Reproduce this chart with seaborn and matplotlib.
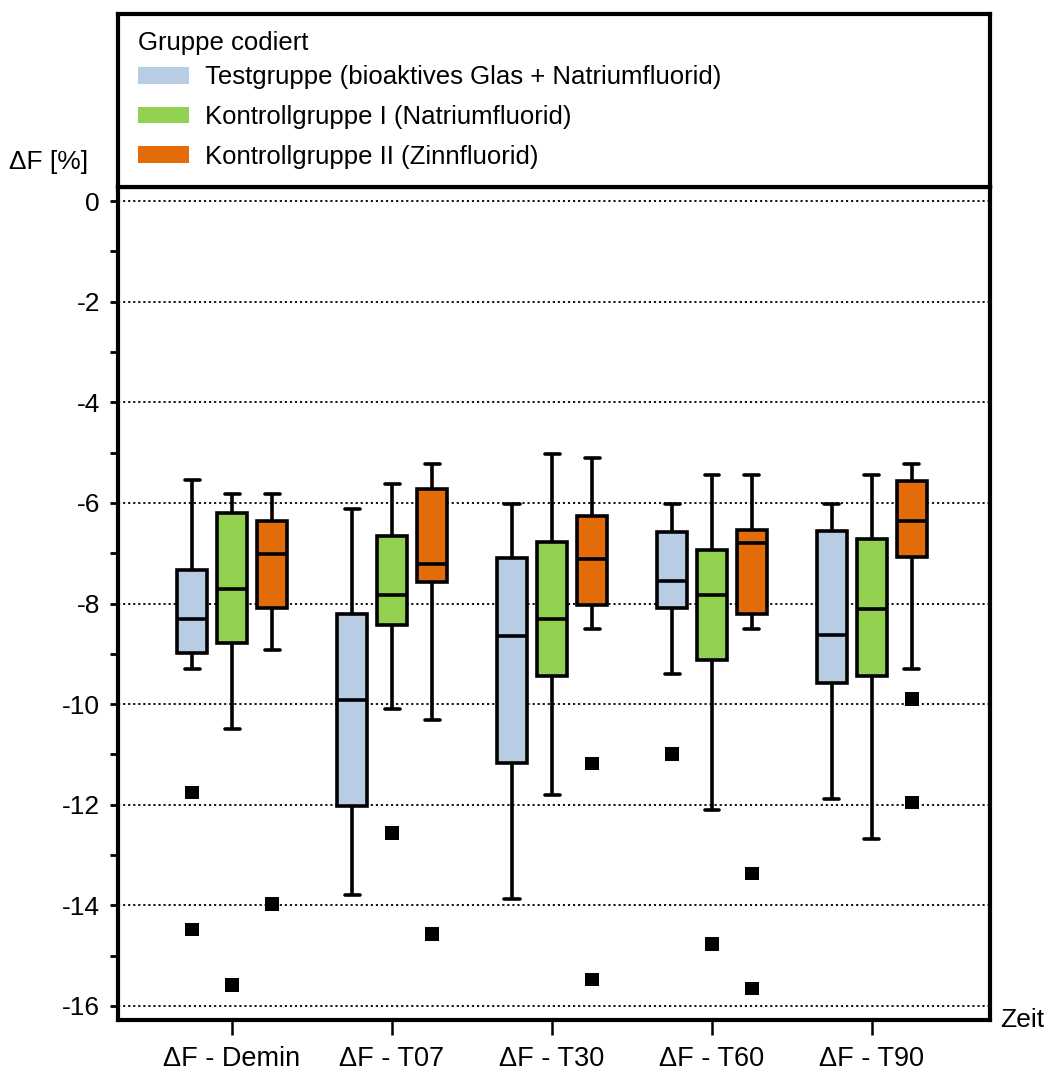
import numpy as np
import pandas as pd
import matplotlib
matplotlib.use("Agg")
import matplotlib.pyplot as plt
from matplotlib.patches import Patch
from matplotlib.ticker import MultipleLocator
import seaborn as sns

# ---------------- data ----------------
zeit = ["ΔF - Demin", "ΔF - T07", "ΔF - T30", "ΔF - T60", "ΔF - T90"]
gruppen = ["Testgruppe (bioaktives Glas + Natriumfluorid)",
           "Kontrollgruppe I (Natriumfluorid)",
           "Kontrollgruppe II (Zinnfluorid)"]

test_min = [-9.30, -13.80, -13.88, -9.40, -11.88]
test_q1 = [-8.99, -12.02, -11.18, -8.08, -9.58]
test_med = [-8.31, -9.92, -8.64, -7.55, -8.63]
test_q3 = [-7.34, -8.21, -7.09, -6.58, -6.55]
test_max = [-5.54, -6.12, -6.02, -6.02, -6.02]

k1_min = [-10.50, -10.10, -11.80, -12.11, -12.68]
k1_q1 = [-8.78, -8.42, -9.44, -9.12, -9.44]
k1_med = [-7.71, -7.83, -8.31, -7.83, -8.10]
k1_q3 = [-6.20, -6.65, -6.78, -6.93, -6.72]
k1_max = [-5.83, -5.63, -5.02, -5.44, -5.44]

k2_min = [-8.93, -10.32, -8.50, -8.50, -9.30]
k2_q1 = [-8.08, -7.57, -8.03, -8.21, -7.08]
k2_med = [-7.02, -7.21, -7.11, -6.80, -6.35]
k2_q3 = [-6.35, -5.73, -6.27, -6.53, -5.56]
k2_max = [-5.83, -5.23, -5.11, -5.44, -5.23]

test_out = [[-11.75, -14.48], [], [], [-10.99], []]
k1_out = [[-15.58], [-12.56], [], [-14.77], []]
k2_out = [[-13.97], [-14.57], [-11.18, -15.48], [-13.37, -15.66], [-9.90, -11.96]]

farben = ["#B8CCE4", "#92D050", "#E36C09"]

# ---------------- build long tables ----------------
five = {
    gruppen[0]: (test_min, test_q1, test_med, test_q3, test_max),
    gruppen[1]: (k1_min, k1_q1, k1_med, k1_q3, k1_max),
    gruppen[2]: (k2_min, k2_q1, k2_med, k2_q3, k2_max),
}
outs = {gruppen[0]: test_out, gruppen[1]: k1_out, gruppen[2]: k2_out}

rows = []
for g, arrs in five.items():
    for i, z in enumerate(zeit):
        for a in arrs:
            rows.append((z, g, a[i]))
box_df = pd.DataFrame(rows, columns=["Zeit", "Gruppe", "dF"])

orows = []
for g, lst in outs.items():
    for i, z in enumerate(zeit):
        for v in lst[i]:
            orows.append((z, g, v))
out_df = pd.DataFrame(orows, columns=["Zeit", "Gruppe", "dF"])

# ---------------- style ----------------
sns.set_style("ticks")
plt.rcParams["font.family"] = ["Liberation Sans", "DejaVu Sans"]
plt.rcParams["axes.unicode_minus"] = False
plt.rcParams["text.color"] = "black"
plt.rcParams["xtick.color"] = "black"
plt.rcParams["ytick.color"] = "black"
plt.rcParams["xtick.labelcolor"] = "black"
plt.rcParams["ytick.labelcolor"] = "black"

W, H = 1051, 1075
fig = plt.figure(figsize=(W / 100, H / 100), dpi=100)

L, R = 118, 990
T_leg, T_main, B_main = 14, 187, 1020
ax = fig.add_axes([L / W, 1 - B_main / H, (R - L) / W, (B_main - T_main) / H])
ax_leg = fig.add_axes([L / W, 1 - T_main / H, (R - L) / W, (T_main - T_leg) / H])

pal = dict(zip(gruppen, farben))
BW = 0.75
sns.boxplot(data=box_df, x="Zeit", y="dF", hue="Gruppe", order=zeit,
            hue_order=gruppen, palette=pal, saturation=1, width=BW, gap=0.25,
            whis=(0, 100), showfliers=False, linewidth=2.6, linecolor="black",
            legend=False, ax=ax)

n_before = len(ax.collections)
sns.stripplot(data=out_df, x="Zeit", y="dF", hue="Gruppe", order=zeit,
              hue_order=gruppen, palette={g: "black" for g in gruppen},
              dodge=True, jitter=False, marker="s", size=9.5, linewidth=0,
              legend=False, ax=ax)
# align the dodge of the points with the box width used above
for coll in ax.collections[n_before:]:
    off = coll.get_offsets()
    if len(off):
        xs = np.asarray(off[:, 0], dtype=float)
        base = np.round(xs)
        off[:, 0] = base + (xs - base) * (BW / 0.8)
        coll.set_offsets(off)

# axes
ax.set_xlim(-0.7125, 4.7375)
ax.set_ylim(-16.28, 0.28)
ax.yaxis.set_major_locator(MultipleLocator(2))
ax.yaxis.set_minor_locator(MultipleLocator(1))
ax.set_xlabel("")
ax.set_ylabel("")
ax.grid(axis="y", which="major", color="black", linestyle=(0, (1.2, 1.6)), linewidth=1.3)
ax.set_axisbelow(True)
for s in ax.spines.values():
    s.set_visible(True)
    s.set_linewidth(3)
    s.set_color("black")
ax.tick_params(axis="y", which="both", direction="out", length=6, width=2,
               labelsize=19, pad=7, color="black", labelcolor="black")
ax.tick_params(axis="x", direction="out", length=11, width=1.8,
               labelsize=19.5, pad=8, color="black", labelcolor="black")

# legend panel
ax_leg.set_xticks([])
ax_leg.set_yticks([])
for s in ax_leg.spines.values():
    s.set_visible(True)
    s.set_linewidth(3)
    s.set_color("black")
handles = [Patch(facecolor=c, edgecolor="none") for c in farben]
leg = ax_leg.legend(handles, gruppen, loc="upper left",
                    bbox_to_anchor=(0.023, 0.703), frameon=False, fontsize=18.5,
                    borderpad=0, borderaxespad=0, handlelength=2.0,
                    handleheight=0.62, handletextpad=0.6, labelspacing=0.61)
for t in leg.get_texts():
    t.set_color("black")
fig.text(138 / W, 1 - 43 / H, "Gruppe codiert", ha="left", va="center",
         fontsize=18.5, color="black")

fig.text(49 / W, 1 - 162 / H, "ΔF [%]", ha="center", va="center", fontsize=19, color="black")
fig.text(1000 / W, 1 - 1020 / H, "Zeit", ha="left", va="center", fontsize=19, color="black")

fig.savefig("out.png", dpi=100)
